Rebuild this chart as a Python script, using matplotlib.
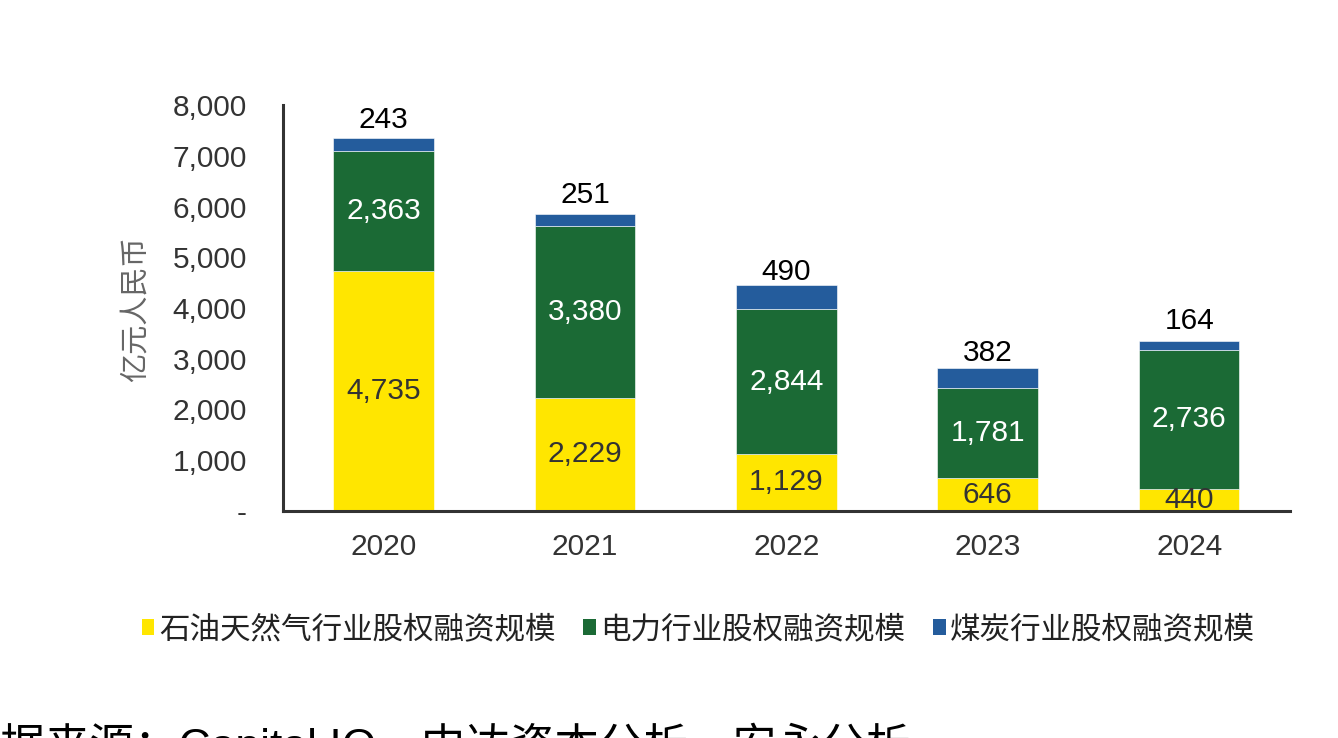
import numpy as np
import matplotlib
matplotlib.use('Agg')
import matplotlib.pyplot as plt
from matplotlib.patches import Patch

plt.rcParams['font.family'] = ['Liberation Sans', 'Noto Sans CJK SC']

# data (亿元人民币)
years = ['2020', '2021', '2022', '2023', '2024']
oil_gas = [4735, 2229, 1129, 646, 440]
power = [2363, 3380, 2844, 1781, 2736]
coal = [243, 251, 490, 382, 164]
series_names = ['石油天然气行业股权融资规模', '电力行业股权融资规模', '煤炭行业股权融资规模']
y_ticks = [0, 1000, 2000, 3000, 4000, 5000, 6000, 7000, 8000]
source_text = '数据来源：Capital IQ，中达资本分析，安永分析'

colors = ['#FFE600', '#1B6A35', '#245C9C']

fig = plt.figure(figsize=(13.38, 7.38), dpi=100)
ax = fig.add_axes([0.2115, 0.3076, 0.7525, 0.5501])

x = np.arange(len(years))
w = 0.5
oil_gas = np.array(oil_gas)
power = np.array(power)
coal = np.array(coal)

ax.bar(x, oil_gas, w, color=colors[0], edgecolor='white', linewidth=0.4)
ax.bar(x, power, w, bottom=oil_gas, color=colors[1], edgecolor='white', linewidth=0.4)
ax.bar(x, coal, w, bottom=oil_gas + power, color=colors[2], edgecolor='white', linewidth=0.4)

fs = 21.5
for i in range(len(years)):
    ax.text(x[i], oil_gas[i] / 2, f'{oil_gas[i]:,}', ha='center', va='center',
            fontsize=fs, color='#333333')
    ax.text(x[i], oil_gas[i] + power[i] / 2, f'{power[i]:,}', ha='center', va='center',
            fontsize=fs, color='white')
    ax.annotate(f'{coal[i]:,}', (x[i], oil_gas[i] + power[i] + coal[i] / 2),
                xytext=(0, 18), textcoords='offset points', ha='center', va='center',
                fontsize=fs, color='black')

ax.set_xlim(-0.5, 4.5)
ax.set_ylim(0, 8000)
ax.set_xticks(x)
ax.set_xticklabels(years)
ax.set_yticks(y_ticks)
ax.set_yticklabels(['-' if v == 0 else f'{v:,}' for v in y_ticks])
ax.tick_params(axis='y', length=0, pad=26, labelsize=fs, colors='#333333')
ax.tick_params(axis='x', length=0, pad=16, labelsize=fs, colors='#333333')

for s in ['top', 'right']:
    ax.spines[s].set_visible(False)
for s in ['left', 'bottom']:
    ax.spines[s].set_color('#333333')
    ax.spines[s].set_linewidth(2.2)

fig.text(0.101, 0.5813, '亿元人民币', rotation=90, ha='center', va='center',
         fontsize=21, color='#666666')

handles = [Patch(facecolor=c, edgecolor='none') for c in colors]
fig.legend(handles, series_names, loc='center', bbox_to_anchor=(0.522, 0.1463),
           ncol=3, frameon=False, fontsize=22, handlelength=0.42, handleheight=0.42,
           handletextpad=0.15, columnspacing=0.9, labelcolor='#222222')

fig.text(-0.0329, -0.0298, source_text, ha='left', va='baseline', fontsize=32, color='black')

fig.savefig('out.png', dpi=100)
